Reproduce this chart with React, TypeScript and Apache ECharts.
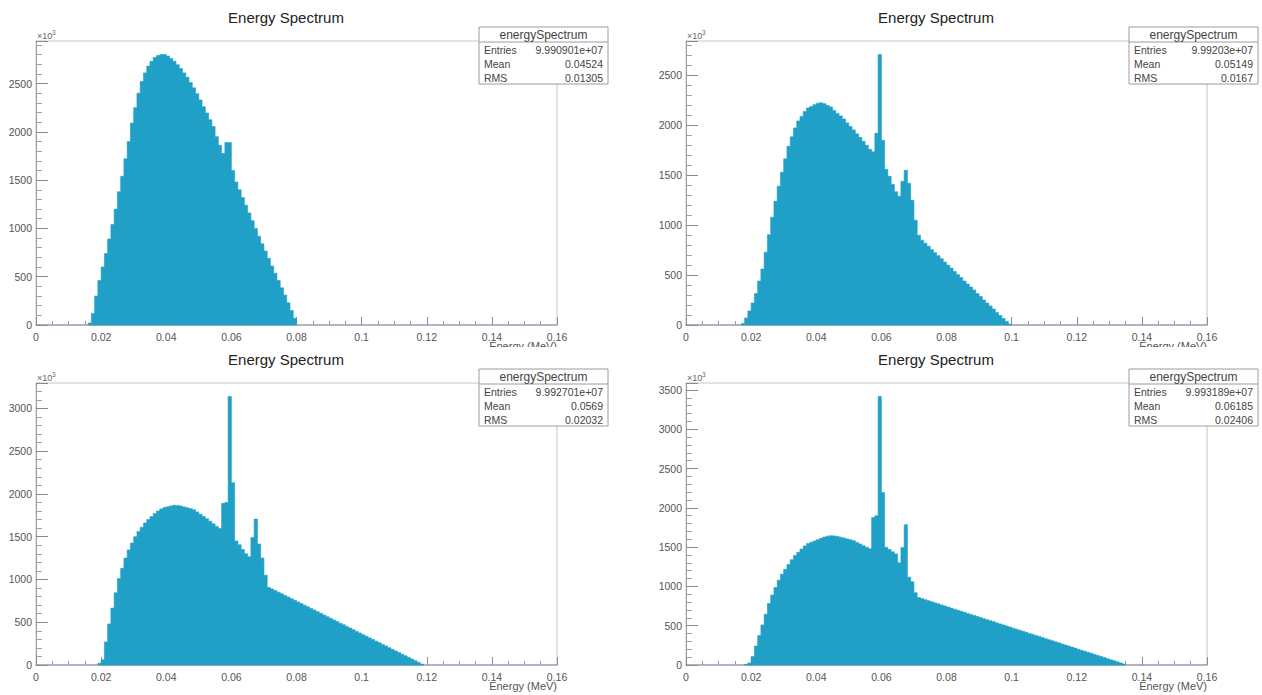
import React, { useEffect, useRef } from "react";
import * as echarts from "echarts";

// ---- data (bin width 0.001 MeV, values in units of 10^3 counts) ----
const BIN_WIDTH = 0.001;
const X_MIN = 0;
const X_MAX = 0.16;
const X_INTERVAL = 0.02;
const Y_INTERVAL = 500;

const TITLE = "Energy Spectrum";
const X_NAME = "Energy (MeV)";
const STATS_HEADER = "energySpectrum";
const STAT_NAMES = ["Entries", "Mean", "RMS"];

const STATS_A = ["9.990901e+07", "0.04524", "0.01305"];
const STATS_B = ["9.99203e+07", "0.05149", "0.0167"];
const STATS_C = ["9.992701e+07", "0.0569", "0.02032"];
const STATS_D = ["9.993189e+07", "0.06185", "0.02406"];

const START_A = 16; // first bin low edge in keV
const COUNTS_A = [
  20, 120, 300, 460, 600, 740, 890, 1040, 1200, 1380, 1540, 1720, 1900, 2090, 2250, 2400,
  2520, 2610, 2680, 2730, 2770, 2790, 2800, 2800, 2785, 2760, 2730, 2695, 2655, 2610, 2565,
  2510, 2455, 2395, 2330, 2260, 2195, 2125, 2055, 1950, 1860, 1775, 1890, 1890, 1600, 1480,
  1400, 1320, 1240, 1160, 1080, 1000, 920, 840, 765, 690, 610, 535, 460, 385, 310, 230, 150, 70,
];

const START_B = 17;
const COUNTS_B = [
  15, 70, 140, 220, 315, 440, 560, 730, 905, 1080,
  1240, 1390, 1530, 1665, 1790, 1885, 1975, 2045, 2090, 2140,
  2175, 2190, 2208, 2222, 2227, 2218, 2200, 2185, 2150, 2120,
  2095, 2065, 2025, 1990, 1955, 1915, 1880, 1840, 1800, 1760,
  1735, 1920, 2710, 1850, 1560, 1490, 1410, 1335, 1290, 1440,
  1550, 1420, 1250, 1050, 900,
  850, 820, 790, 755, 725, 695, 665, 630, 600, 570, 535, 505, 475, 440, 410, 380, 350, 315,
  285, 250, 220, 190, 160, 125, 95, 65, 35, 10,
];

const START_C = 19;
const COUNTS_C = [
  20, 60, 270, 480, 665, 845, 1010, 1130, 1250, 1345, 1425, 1500, 1560, 1610, 1660, 1700,
  1735, 1770, 1800, 1825, 1840, 1850, 1860, 1868, 1866, 1858, 1848, 1838, 1828, 1815, 1790,
  1763, 1736, 1709, 1682, 1650, 1620, 1595, 1890, 1900, 3140, 2130, 1450, 1405, 1350, 1300,
  1265, 1492, 1706, 1415, 1250, 1050, 905,
  890, 871, 852, 833, 814, 795, 776, 757, 737, 718, 699, 680, 661, 642, 623, 604, 584, 565,
  546, 527, 508, 489, 470, 451, 432, 413, 393, 374, 355, 336, 317, 298, 279, 260, 241, 222,
  202, 183, 164, 145, 126, 107, 88, 69, 50, 31, 12,
];

const START_D = 18;
const COUNTS_D = [
  8, 25, 107, 241, 375, 510, 646, 782, 890, 985, 1080, 1155, 1217, 1280, 1340, 1393, 1434,
  1475, 1516, 1547, 1562, 1578, 1595, 1612, 1628, 1640, 1645, 1643, 1636, 1627, 1617, 1605,
  1594, 1582, 1560, 1540, 1518, 1498, 1480, 1877, 1900, 3418, 2194, 1498, 1470, 1440, 1414,
  1300, 1494, 1785, 1118, 1060, 920, 858,
  845, 831, 818, 804, 791, 778, 764, 751, 737, 724, 711, 697, 684, 670, 657, 644, 630, 617,
  603, 590, 577, 563, 550, 536, 523, 510, 496, 483, 469, 456, 443, 429, 416, 402, 389, 376,
  362, 349, 335, 322, 308, 295, 282, 268, 255, 241, 228, 215, 201, 188, 174, 161, 148, 134,
  121, 107, 94, 80, 67, 54, 40, 27, 13,
];

// ---- layout / style ----
const FONT = '"Liberation Sans", Arial, Helvetica, sans-serif';
const FILL = "#20a0c6";

const PANELS = [
  { start: START_A, counts: COUNTS_A, stats: STATS_A, left: 36, top: 41, width: 521, height: 284 },
  { start: START_B, counts: COUNTS_B, stats: STATS_B, left: 686, top: 41, width: 521, height: 284 },
  { start: START_C, counts: COUNTS_C, stats: STATS_C, left: 36, top: 383, width: 521, height: 282 },
  { start: START_D, counts: COUNTS_D, stats: STATS_D, left: 686, top: 383, width: 521, height: 282 },
];

function buildOption() {
  const grid: any[] = [];
  const xAxis: any[] = [];
  const yAxis: any[] = [];
  const series: any[] = [];
  const graphic: any[] = [];

  PANELS.forEach((p, i) => {
    // each bin: [lowEdge, highEdge, count]
    const bins: number[][] = p.counts.map((v, k) => [
      (p.start + k) * BIN_WIDTH,
      (p.start + k + 1) * BIN_WIDTH,
      v,
    ]);
    const yMax = Math.max(...p.counts) * 1.05;

    grid.push({
      left: p.left,
      top: p.top,
      width: p.width,
      height: p.height,
      show: true,
      borderColor: "#c6c6c6",
      borderWidth: 1,
      backgroundColor: "transparent",
    });
    xAxis.push({
      type: "value",
      gridIndex: i,
      min: X_MIN,
      max: X_MAX,
      interval: X_INTERVAL,
      axisLine: { show: true, onZero: false, lineStyle: { color: "#a89fbd", width: 1.5 } },
      axisTick: { show: true, inside: true, length: 8, lineStyle: { color: "#8a8a8a" } },
      minorTick: { show: true, splitNumber: 4, length: 4, lineStyle: { color: "#9a9a9a" } },
      splitLine: { show: false },
      axisLabel: {
        fontFamily: FONT,
        fontSize: 10.5,
        color: "#555",
        margin: 6,
        formatter: (v: number) => String(Number(v.toFixed(3))),
      },
    });
    yAxis.push({
      type: "value",
      gridIndex: i,
      min: 0,
      max: yMax,
      interval: Y_INTERVAL,
      axisLine: { show: true, lineStyle: { color: "#a0a0a0" } },
      axisTick: { show: true, inside: true, length: 12, lineStyle: { color: "#8a8a8a" } },
      minorTick: { show: true, splitNumber: 5, length: 6, lineStyle: { color: "#a0a0a0" } },
      splitLine: { show: false },
      axisLabel: {
        fontFamily: FONT,
        fontSize: 10.5,
        color: "#555",
        margin: 4,
        showMaxLabel: false,
        formatter: (v: number) => String(Math.round(v)),
      },
    });
    series.push({
      type: "custom",
      xAxisIndex: i,
      yAxisIndex: i,
      data: bins,
      encode: { x: [0, 1], y: 2 },
      z: 2,
      renderItem: (params: any, api: any) => {
        if (params.dataIndex !== 0) return null;
        const pts: number[][] = [];
        pts.push(api.coord([bins[0][0], 0]));
        bins.forEach((b) => {
          pts.push(api.coord([b[0], b[2]]));
          pts.push(api.coord([b[1], b[2]]));
        });
        pts.push(api.coord([bins[bins.length - 1][1], 0]));
        return {
          type: "polygon",
          shape: { points: pts },
          style: { fill: FILL, stroke: FILL, lineWidth: 0.6 },
        };
      },
    });

    // title
    const cx = p.left + 250;
    graphic.push({
      type: "text",
      x: cx,
      y: p.top - 24,
      z: 50,
      style: {
        text: TITLE,
        font: `15px ${FONT}`,
        fill: "#222",
        textAlign: "center",
        textVerticalAlign: "middle",
      },
    });
    // x10^3
    graphic.push({
      type: "text",
      x: p.left + 1,
      y: p.top - 5,
      z: 50,
      style: { text: "×10", font: `9px ${FONT}`, fill: "#666", textAlign: "left", textVerticalAlign: "middle" },
    });
    graphic.push({
      type: "text",
      x: p.left + 16,
      y: p.top - 9,
      z: 50,
      style: { text: "3", font: `6.5px ${FONT}`, fill: "#666", textAlign: "left", textVerticalAlign: "middle" },
    });
    // x axis name
    graphic.push({
      type: "text",
      x: p.left + p.width,
      y: p.top + p.height + 21,
      z: 50,
      style: { text: X_NAME, font: `11px ${FONT}`, fill: "#555", textAlign: "right", textVerticalAlign: "middle" },
    });
    if (i < 2) {
      graphic.push({
        type: "rect",
        z: 60,
        shape: { x: p.left + p.width - 90, y: p.top + p.height + 22, width: 100, height: 10 },
        style: { fill: "#fff", stroke: null },
      });
    }

    // stats box
    const bx = p.left + p.width - 78;
    const by = p.top - 14;
    const bw = 129;
    const bh = 57;
    graphic.push({
      type: "rect",
      z: 70,
      shape: { x: bx, y: by, width: bw, height: bh },
      style: { fill: "#fff", stroke: "#9c9c9c", lineWidth: 1 },
    });
    graphic.push({
      type: "line",
      z: 71,
      shape: { x1: bx, y1: by + 15, x2: bx + bw, y2: by + 15 },
      style: { stroke: "#9c9c9c", lineWidth: 1 },
    });
    graphic.push({
      type: "text",
      z: 72,
      x: bx + bw / 2,
      y: by + 8,
      style: { text: STATS_HEADER, font: `12px ${FONT}`, fill: "#444", textAlign: "center", textVerticalAlign: "middle" },
    });
    STAT_NAMES.forEach((name, r) => {
      const ry = by + 23 + r * 14;
      graphic.push({
        type: "text",
        z: 72,
        x: bx + 5,
        y: ry,
        style: { text: name, font: `10.5px ${FONT}`, fill: "#444", textAlign: "left", textVerticalAlign: "middle" },
      });
      graphic.push({
        type: "text",
        z: 72,
        x: bx + bw - 5,
        y: ry,
        style: { text: p.stats[r], font: `10.5px ${FONT}`, fill: "#444", textAlign: "right", textVerticalAlign: "middle" },
      });
    });
  });

  return {
    animation: false,
    backgroundColor: "#ffffff",
    grid,
    xAxis,
    yAxis,
    series,
    graphic,
  };
}

export default function App() {
  const ref = useRef<HTMLDivElement>(null);
  useEffect(() => {
    if (!ref.current) return;
    const chart = echarts.init(ref.current, undefined, { renderer: "svg" });
    chart.setOption(buildOption() as any);
    return () => chart.dispose();
  }, []);
  return (
    <div
      ref={ref}
      style={{ position: "fixed", left: 0, top: 0, width: 1262, height: 695, background: "#fff" }}
    />
  );
}
